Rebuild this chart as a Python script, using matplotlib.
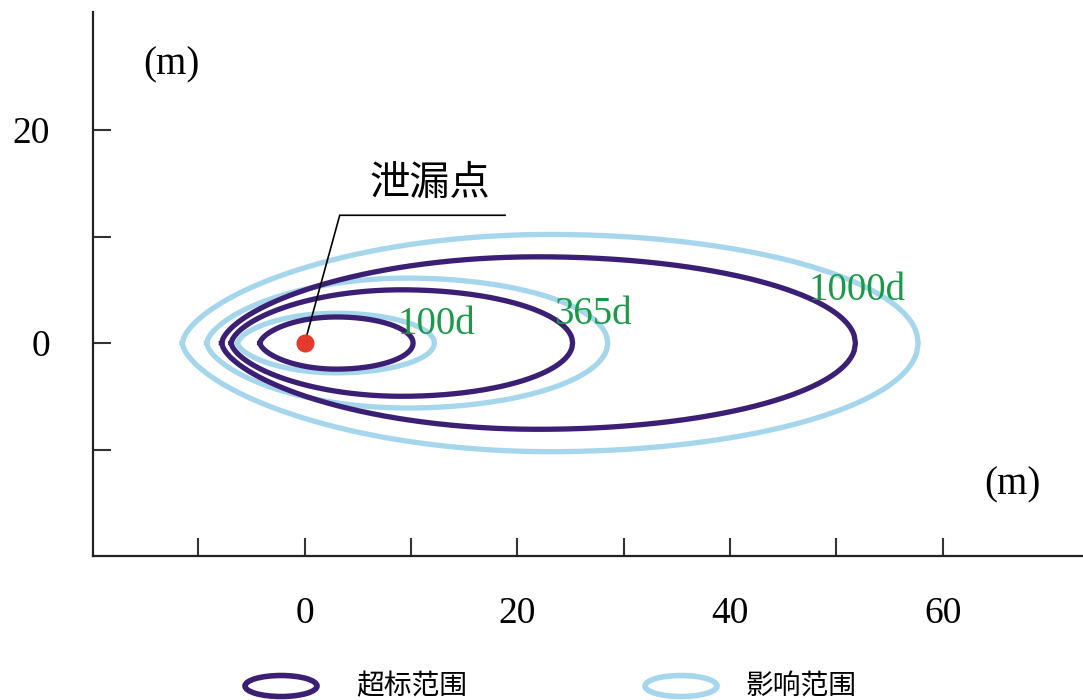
import numpy as np
import matplotlib
matplotlib.use("Agg")
import matplotlib.pyplot as plt
from matplotlib.patches import Ellipse

# Contour extents (m): left end, right end, half height
days = ["100d", "365d", "1000d"]
over_left = [-4.2, -6.9, -7.8]
over_right = [10.2, 25.2, 51.8]
over_half = [2.45, 5.0, 8.1]
infl_left = [-6.3, -9.2, -11.5]
infl_right = [12.2, 28.5, 57.7]
infl_half = [2.8, 6.1, 10.2]

# Day label positions
label_x = [12.4, 27.1, 52.0]
label_y = [1.7, 2.7, 4.9]

leak_x, leak_y = 0.0, 0.0

x_ticks = [-10, 0, 10, 20, 30, 40, 50, 60]
y_ticks = [-10, 0, 10, 20]
x_labels = ["", "0", "", "20", "", "40", "", "60"]
y_labels = ["", "0", "", "20"]

c_over = "#3b1f74"
c_infl = "#a5d6ec"
c_green = "#1a9a48"
serif = "Liberation Serif"
cjk = ["Noto Sans CJK SC", "DejaVu Sans"]


def egg(x0, x1, b, p_left=0.62, n=500):
    # plain ellipse on the right half, a bit more pointed upstream
    u = np.linspace(-1, 1, n)
    base = np.clip(1 - u**2, 0, None)
    h = np.where(u < 0, base**p_left, base**0.5) * b
    x = x0 + (u + 1) / 2 * (x1 - x0)
    xs = np.concatenate([x, x[::-1]])
    ys = np.concatenate([h, -h[::-1]])
    return xs, ys


fig = plt.figure(figsize=(10.83, 7.0), dpi=100)
ax = fig.add_axes([0.0859, 0.2057, 0.9141, 0.7773])
ax.set_xlim(-19.9, 73.2)
ax.set_ylim(-20, 31.1)

for i in range(3):
    xs, ys = egg(infl_left[i], infl_right[i], infl_half[i])
    ax.plot(xs, ys, color=c_infl, lw=3.8, zorder=2)
for i in range(3):
    xs, ys = egg(over_left[i], over_right[i], over_half[i])
    ax.plot(xs, ys, color=c_over, lw=3.8, zorder=3)

for i in range(3):
    ax.text(label_x[i], label_y[i], days[i], color=c_green, fontsize=28,
            family=serif, ha="center", va="center", zorder=4)

# leak point and leader line
ax.plot([leak_x, 3.3, 18.85], [leak_y, 12.0, 12.0], color="black", lw=1.2, zorder=5)
ax.plot(leak_x, leak_y, "o", color="#e4392c", ms=12, zorder=6)
ax.text(11.8, 15.0, "泄漏点", fontsize=29, family=cjk, ha="center", va="center")

ax.text(-12.5, 26.1, "(m)", fontsize=28, family=serif, ha="center", va="center")
ax.text(66.6, -13.3, "(m)", fontsize=28, family=serif, ha="center", va="center")

ax.spines["top"].set_visible(False)
ax.spines["right"].set_visible(False)
for s in ["left", "bottom"]:
    ax.spines[s].set_linewidth(1.6)
    ax.spines[s].set_color("#222222")
ax.set_xticks(x_ticks)
ax.set_xticklabels(x_labels)
ax.set_yticks(y_ticks)
ax.set_yticklabels(y_labels)
ax.tick_params(direction="in", length=13, width=1.5, color="#333333",
               labelsize=27)
ax.tick_params(axis="x", pad=29)
ax.tick_params(axis="y", pad=31)
for lab in ax.get_xticklabels() + ax.get_yticklabels():
    lab.set_fontfamily(serif)

# legend row
fig.patches.append(Ellipse((281 / 1083, 1 - 686 / 700), 72 / 1083, 21 / 700,
                           transform=fig.transFigure, fill=False,
                           ec=c_over, lw=4))
fig.patches.append(Ellipse((681 / 1083, 1 - 686 / 700), 72 / 1083, 21 / 700,
                           transform=fig.transFigure, fill=False,
                           ec=c_infl, lw=4))
fig.text(356 / 1083, 1 - 686 / 700, "超标范围", fontsize=20, family=cjk,
         ha="left", va="center")
fig.text(745 / 1083, 1 - 686 / 700, "影响范围", fontsize=20, family=cjk,
         ha="left", va="center")

fig.savefig("out.png", dpi=100)
